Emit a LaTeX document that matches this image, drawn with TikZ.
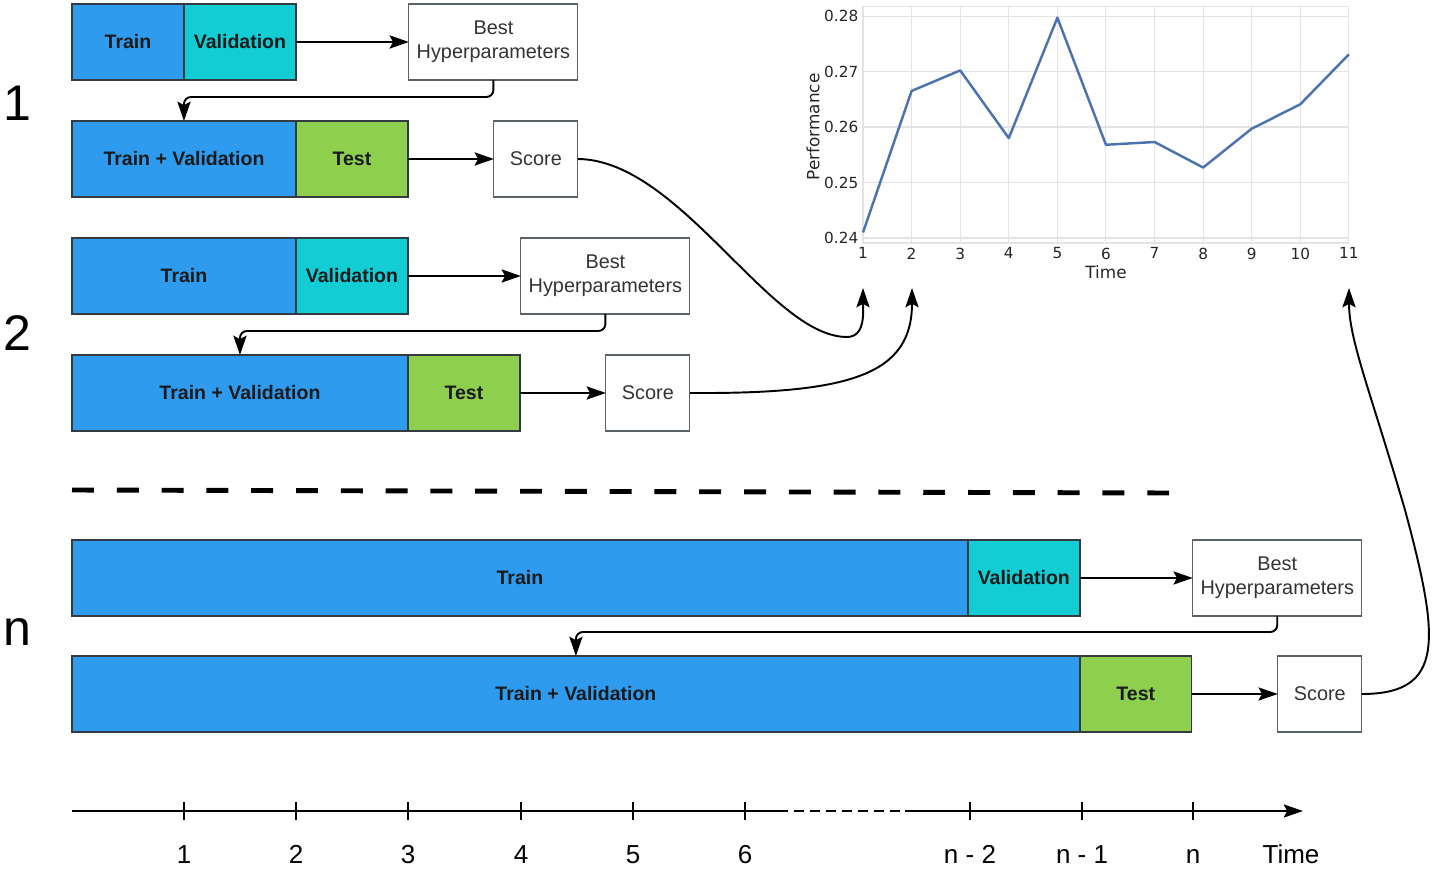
\documentclass[tikz,border=0pt]{standalone}
\usepackage{fontspec}
\setmainfont{Liberation Sans}
\newfontfamily\plotfont{DejaVu Sans}
\usetikzlibrary{positioning,arrows.meta}

\definecolor{trainblue}{RGB}{46,155,239}
\definecolor{validcyan}{RGB}{18,205,212}
\definecolor{testgreen}{RGB}{142,207,78}
\definecolor{boxline}{RGB}{50,58,66}
\definecolor{blocktext}{RGB}{26,26,26}
\definecolor{hypertext}{RGB}{51,51,51}
\definecolor{gridgray}{RGB}{228,228,228}
\definecolor{plottext}{RGB}{38,38,38}
\definecolor{perfblue}{RGB}{76,114,176}

\tikzset{
  block/.style={draw=boxline, line width=0.8pt, minimum height=1.52cm, inner sep=0pt, outer sep=0pt, text=blocktext, font=\fontsize{11.1}{13}\selectfont\bfseries},
  train/.style={block, fill=trainblue},
  valid/.style={block, fill=validcyan, minimum width=2.24cm},
  test/.style={block, fill=testgreen, minimum width=2.24cm},
  hyper/.style={draw=boxline!80, line width=0.6pt, minimum width=3.38cm, minimum height=1.52cm, inner sep=0pt, outer sep=0pt, align=center, text=hypertext, font=\fontsize{11.3}{13.7}\selectfont},
  score/.style={hyper, minimum width=1.68cm},
  flow/.style={-{Stealth[length=11pt,width=7.5pt,inset=2pt]}, line width=1.1pt},
  rowlabel/.style={anchor=base, inner sep=0pt, font=\fontsize{28.5}{30}\selectfont},
  ticklabel/.style={anchor=base, inner sep=0pt, font=\fontsize{14.8}{16}\selectfont},
  gridline/.style={draw=gridgray, line width=0.6pt},
  plotlabel/.style={inner sep=2.5pt, text=plottext, font=\plotfont\fontsize{8.7}{10}\selectfont},
  axislabel/.style={inner sep=0pt, text=plottext, font=\plotfont\fontsize{9.6}{11}\selectfont},
}

\begin{document}
\begin{tikzpicture}[x=0.02cm, y=-0.02cm]
  \useasboundingbox (0,0) rectangle (1436,878);

  %%%%% round 1 %%%%%
  \node[rowlabel] (r1) at (17,121) {1};
  \node[train, minimum width=2.24cm, anchor=north west] (tr1) at (72,4) {Train};
  \node[valid, right=0pt of tr1] (va1) {Validation};
  \node[hyper, right=2.26cm of va1] (bh1) {Best\\Hyperparameters};
  \node[train, minimum width=4.48cm, anchor=north west] (tv1) at (72,121) {Train + Validation};
  \node[test, right=0pt of tv1] (te1) {Test};
  \node[score, right=1.72cm of te1] (sc1) {Score};
  \draw[flow] (va1) -- (bh1);
  \draw[flow, rounded corners=4pt] (bh1.south) -- ++(0,17) -| (tv1.north);
  \draw[flow] (te1) -- (sc1);

  %%%%% round 2 %%%%%
  \node[rowlabel] (r2) at (17,351) {2};
  \node[train, minimum width=4.48cm, anchor=north west] (tr2) at (72,238) {Train};
  \node[valid, right=0pt of tr2] (va2) {Validation};
  \node[hyper, right=2.26cm of va2] (bh2) {Best\\Hyperparameters};
  \node[train, minimum width=6.72cm, anchor=north west] (tv2) at (72,355) {Train + Validation};
  \node[test, right=0pt of tv2] (te2) {Test};
  \node[score, right=1.72cm of te2] (sc2) {Score};
  \draw[flow] (va2) -- (bh2);
  \draw[flow, rounded corners=4pt] (bh2.south) -- ++(0,17) -| (tv2.north);
  \draw[flow] (te2) -- (sc2);

  \draw[line width=2.8pt, dash pattern=on 12.5pt off 13pt] (72,490) -- (1170,493);

  %%%%% round n %%%%%
  \node[rowlabel] (rn) at (17,645) {n};
  \node[train, minimum width=17.92cm, anchor=north west] (tr3) at (72,540) {Train};
  \node[valid, right=0pt of tr3] (va3) {Validation};
  \node[hyper, right=2.26cm of va3] (bh3) {Best\\Hyperparameters};
  \node[train, minimum width=20.16cm, anchor=north west] (tv3) at (72,656) {Train + Validation};
  \node[test, right=0pt of tv3] (te3) {Test};
  \node[score, right=1.72cm of te3] (sc3) {Score};
  \draw[flow] (va3) -- (bh3);
  \draw[flow, rounded corners=4pt] (bh3.south) -- ++(0,16) -| (tv3.north);
  \draw[flow] (te3) -- (sc3);

  %%%%% performance plot %%%%%
  \begin{scope}[shift={(863,238)}, x=0.972cm, y=1.11cm]
    \draw[gridline] (0,-0.09) rectangle (10,4.18);
    \foreach \t in {1,...,9} \draw[gridline] (\t,-0.09) -- (\t,4.18);
    \foreach \v in {0,...,4} \draw[gridline] (0,\v) -- (10,\v);
    \draw[perfblue, line width=1.4pt, line join=round]
      (0,0.1) -- (1,2.65) -- (2,3.02) -- (3,1.8) -- (4,3.97) -- (5,1.68)
      -- (6,1.73) -- (7,1.27) -- (8,1.97) -- (9,2.41) -- (10,3.31);
    \foreach \t in {1,...,11} \node[plotlabel, anchor=north] (xt\t) at (\t-1,-0.09) {\t};
    \foreach \v/\lab in {0/0.24,1/0.25,2/0.26,3/0.27,4/0.28}
      \node[plotlabel, anchor=east] (yt\v) at (0,\v) {\lab};
  \end{scope}
  \node[axislabel, rotate=90] (perf) at (813,127) {Performance};
  \node[axislabel] (ptime) at (1106,272) {Time};

  \coordinate (t1) at (863,288);
  \coordinate (t2) at (912,288);
  \coordinate (tn) at (1349,288);
  \draw[flow] (sc1.east) .. controls (680,160) and (770,337) .. (847,337) .. controls (866,337) and (863,310) .. (t1);
  \draw[flow] (sc2.east) .. controls (850,394) and (912,375) .. (t2);
  \draw[flow] (sc3.east) .. controls (1445,694) and (1440,640) .. (1405,510) .. controls (1370,390) and (1349,340) .. (tn);

  %%%%% time axis %%%%%
  \coordinate (ax0) at (72,811);
  \coordinate (axg1) at (778,811);
  \coordinate (axg2) at (905,811);
  \coordinate (axend) at (1303,811);
  \draw[line width=1.1pt] (ax0) -- (axg1);
  \draw[line width=1.1pt, dash pattern=on 5.7pt off 3.4pt] (axg1) -- (axg2);
  \draw[flow] (axg2) -- (axend);
  \foreach \x/\lab in {184/1,296/2,408/3,521/4,633/5,745/6,970/n - 2,1082/n - 1,1193/n} {
    \draw[line width=0.6pt] (\x,802) -- (\x,820);
    \node[ticklabel] (tl\x) at (\x,863) {\lab};
  }
  \node[ticklabel] (tltime) at (1291,863) {Time};
\end{tikzpicture}
\end{document}
